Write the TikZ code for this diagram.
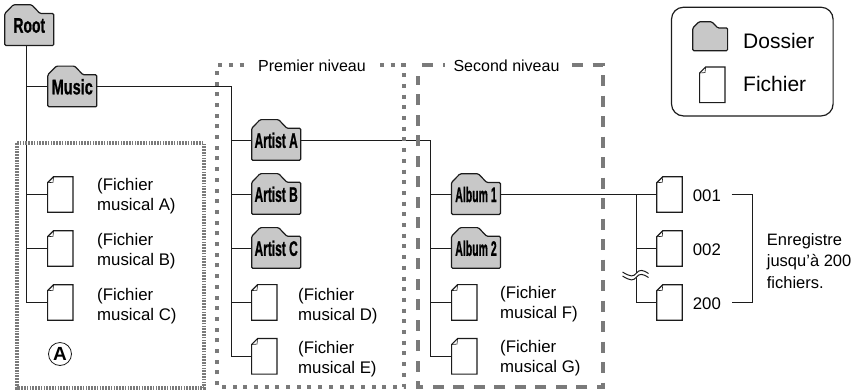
\documentclass[tikz,border=0pt]{standalone}
\usepackage{graphicx}
\usepackage{fontspec}
\setmainfont{Liberation Sans}
\newfontfamily\labfont[FakeBold=1.2]{Liberation Sans Bold}
\definecolor{foldergray}{HTML}{C8C8C8}
\definecolor{inkdark}{HTML}{1C1C1C}
\definecolor{boxgray}{HTML}{7A7A7A}
\newcommand{\fsmall}{\fontsize{16.8}{20}\selectfont}
\newcommand{\mkfolder}[6][1]{% scale, name, x, y, xscale of label, label
  \begin{scope}[shift={(#3,#4)},scale=#1]
    \draw[line width=1.2pt,inkdark,fill=foldergray,rounded corners=1.2pt]
      (-24.5,20) -- (-24.5,-12) -- (-16,-20.7) -- (2.4,-20.7) -- (10.7,-12) -- (24.5,-12) -- (24.5,20) -- cycle;
  \end{scope}
  \node[folderbox,minimum width=#1*49pt,minimum height=#1*41pt] (#2) at (#3,#4) {\scalebox{#5}[1]{\labfont\fontsize{21}{21}\selectfont #6}};
}
\newcommand{\mkfile}[3]{% name, x, y
  \begin{scope}[shift={(#2,#3)}]
    \draw[line width=1.2pt,inkdark,fill=white,line join=miter]
      (-12.7,17.8) -- (-12.7,-11.8) -- (-6.7,-17.8) -- (12.7,-17.8) -- (12.7,17.8) -- cycle;
    \draw[line width=.6pt,inkdark] (-6.7,-17.8) -- (-7.3,-12.2) -- (-12.7,-11.8);
  \end{scope}
  \node[filebox] (#1) at (#2,#3) {};
}
\tikzset{
  x=1pt,y=-1pt,
  folderbox/.style={inner sep=0pt,outer sep=0pt,text=black},
  filebox/.style={inner sep=0pt,outer sep=0pt,minimum width=25.4pt,minimum height=35.6pt},
  conn/.style={line width=1.3pt,inkdark},
  fname/.style={anchor=west,align=left,inner sep=0pt,font=\fsmall},
  numlab/.style={anchor=west,inner sep=0pt,font=\fsmall},
  toplab/.style={inner sep=0pt,font=\fontsize{16}{19}\selectfont},
  legendlab/.style={anchor=west,inner sep=0pt,font=\fontsize{21}{24}\selectfont},
  dotbox/.style={boxgray,line width=3.4pt,dash pattern=on 1.7pt off 1.1pt},
  dashboxa/.style={boxgray,line width=3.8pt,dash pattern=on 4pt off 6.7pt},
  dashboxb/.style={boxgray,line width=3.8pt,dash pattern=on 11pt off 9.5pt},
}
\begin{document}
\begin{tikzpicture}
\useasboundingbox (0,0) rectangle (854,389);
% legend
\node[draw=inkdark,line width=1.2pt,rounded corners=12pt,minimum width=161.6pt,minimum height=108.7pt,inner sep=0pt] (legend) at (752.3,61.6) {};
\mkfolder[.71]{legfolder}{710.2}{36.5}{1}{}
\mkfile{legfile}{712.3}{84.8}
\node[legendlab] (legdossier) at (743,41) {Dossier};
\node[legendlab] (legfichier) at (743,84) {Fichier};
% folders
\mkfolder{root}{29.3}{25.5}{.66}{Root}
\mkfolder{music}{72.3}{86.8}{.69}{Music}
\mkfolder{artista}{276.2}{140.3}{.57}{Artist A}
\mkfolder{artistb}{276.2}{194.3}{.57}{Artist B}
\mkfolder{artistc}{276.2}{248.3}{.57}{Artist C}
\mkfolder{albuma}{476}{194.5}{.5}{Album 1}
\mkfolder{albumb}{476}{248.3}{.5}{Album 2}
% files
\mkfile{fa}{60.3}{194.5}
\mkfile{fb}{60.3}{248.5}
\mkfile{fc}{60.3}{302.5}
\mkfile{fd}{264.3}{302.4}
\mkfile{fe}{264.3}{356.3}
\mkfile{ff}{464.3}{302.4}
\mkfile{fg}{464.3}{356.3}
\mkfile{fn}{669.5}{194.5}
\mkfile{fo}{669.5}{248.5}
\mkfile{fz}{669.5}{302.5}
% connectors
\coordinate (trunk) at ([xshift=-2.6pt]root.south);
\draw[conn] (trunk) |- (fc.west);
\draw[conn] (music.west) -- (music.west -| trunk);
\draw[conn] (fa.west) -- (fa.west -| trunk);
\draw[conn] (fb.west) -- (fb.west -| trunk);
\coordinate (busa) at (231.5,86.8);
\draw[conn] (music.east) -- (busa) |- (fe.west);
\draw[conn] (artista.west) -- (artista.west -| busa);
\draw[conn] (artistb.west) -- (artistb.west -| busa);
\draw[conn] (artistc.west) -- (artistc.west -| busa);
\draw[conn] (fd.west) -- (fd.west -| busa);
\coordinate (busb) at (430.5,140.3);
\draw[conn] (artista.east) -- (busb) |- (fg.west);
\draw[conn] (albuma.west) -- (albuma.west -| busb);
\draw[conn] (albumb.west) -- (albumb.west -| busb);
\draw[conn] (ff.west) -- (ff.west -| busb);
\draw[conn] (albuma.east) -- (fn.west);
\coordinate (busc) at (636.5,194.5);
\draw[conn] (busc) |- (fz.west);
\draw[conn] (fo.west) -- (fo.west -| busc);
% break mark
\coordinate (brk) at (636.5,274);
\fill[white] ([shift={(-14,-2)}]brk) .. controls ([shift={(-6,3)}]brk) and ([shift={(-3,3)}]brk) .. ([shift={(0,-1)}]brk) .. controls ([shift={(3,-5)}]brk) and ([shift={(7,-4)}]brk) .. ([shift={(12,-0.5)}]brk)
  -- ([shift={(12,3.5)}]brk) .. controls ([shift={(7,0)}]brk) and ([shift={(3,-1)}]brk) .. ([shift={(0,3)}]brk) .. controls ([shift={(-3,7)}]brk) and ([shift={(-6,7)}]brk) .. ([shift={(-14,2)}]brk) -- cycle;
\draw[line width=1pt,inkdark] ([shift={(-14,-2)}]brk) .. controls ([shift={(-6,3)}]brk) and ([shift={(-3,3)}]brk) .. ([shift={(0,-1)}]brk) .. controls ([shift={(3,-5)}]brk) and ([shift={(7,-4)}]brk) .. ([shift={(12,-0.5)}]brk);
\draw[line width=1pt,inkdark] ([shift={(-14,2)}]brk) .. controls ([shift={(-6,7)}]brk) and ([shift={(-3,7)}]brk) .. ([shift={(0,3)}]brk) .. controls ([shift={(3,-1)}]brk) and ([shift={(7,0)}]brk) .. ([shift={(12,3.5)}]brk);
% file labels
\node[fname] (la) at (97,196.5) {(Fichier\\musical A)};
\node[fname] (lb) at (97,251.5) {(Fichier\\musical B)};
\node[fname] (lc) at (97,306) {(Fichier\\musical C)};
\node[fname] (ld) at (298,306.5) {(Fichier\\musical D)};
\node[fname] (le) at (298,359) {(Fichier\\musical E)};
\node[fname] (lf) at (500,304.5) {(Fichier\\musical F)};
\node[fname] (lg) at (500,358.5) {(Fichier\\musical G)};
\node[numlab] (ln) at (692.7,196) {001};
\node[numlab] (lo) at (692.7,250) {002};
\node[numlab] (lz) at (692.7,304) {200};
\coordinate (brt) at (731.7,194.7);
\coordinate (brb) at (731.7,302.7);
\draw[conn] (brt) -- (752.3,194.7) -- (752.3,302.7) -- (brb);
\node[anchor=west,align=left,inner sep=0pt,font=\fontsize{16.5}{21.7}\selectfont] (lrec) at (766.7,261) {Enregistre\\jusqu’à 200\\fichiers.};
\node[draw=inkdark,circle,line width=.8pt,minimum size=23pt,inner sep=0pt,font=\fontsize{19}{19}\selectfont\bfseries] (ca) at (60,354) {A};
% level boxes
\draw[dotbox] (17,143) rectangle (204,388);
\draw[dashboxa] (380,65.3) -- (404.2,65.3) -- (404.2,387) -- (217,387) -- (217,65.3) -- (250,65.3);
\draw[dashboxb] (572,65.3) -- (603.3,65.3) -- (603.3,387) -- (418.3,387) -- (418.3,76);
\coordinate (dasha) at (422,65.3);
\coordinate (dashb) at (433,65.3);
\coordinate (dota) at (443,65.3);
\coordinate (dotb) at (445,65.3);
\draw[boxgray,line width=3.8pt] (dasha) -- (dashb) (dota) -- (dotb);
\node[toplab] (lvla) at (312,65.5) {Premier niveau};
\node[toplab] (lvlb) at (506.5,65.5) {Second niveau};
\end{tikzpicture}
\end{document}
